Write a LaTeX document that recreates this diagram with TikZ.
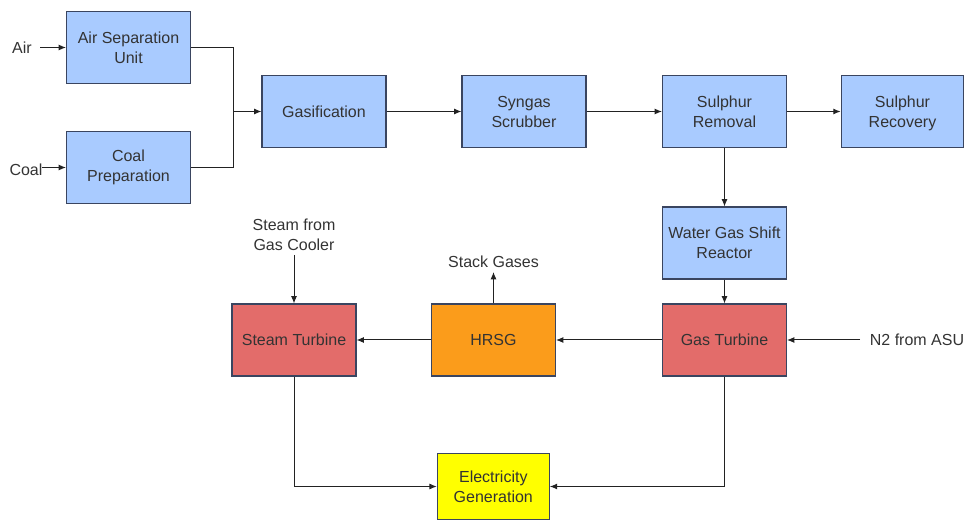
\documentclass[tikz,border=0pt]{standalone}
\usepackage{fontspec}
\setmainfont{Liberation Sans}
\usetikzlibrary{arrows.meta}
\definecolor{boxblue}{HTML}{A9CBFF}
\definecolor{boxred}{HTML}{E36C6A}
\definecolor{boxorange}{HTML}{FB9C1B}
\definecolor{boxyellow}{HTML}{FFFF00}
\definecolor{edgecol}{HTML}{3A4560}
\definecolor{txtcol}{HTML}{333333}
\definecolor{linecol}{HTML}{222222}
\tikzset{
  box/.style={draw=edgecol, line width=0.8pt, minimum width=93pt, minimum height=54pt,
    align=center, text=txtcol, font=\fontsize{12}{15}\selectfont, inner sep=2pt},
  bluebox/.style={box, fill=boxblue},
  redbox/.style={box, fill=boxred},
  orangebox/.style={box, fill=boxorange},
  yellowbox/.style={box, fill=boxyellow, minimum width=84pt, minimum height=49pt},
  lbl/.style={align=center, text=txtcol, font=\fontsize{12}{15}\selectfont, inner sep=1pt},
  conn/.style={draw=linecol, line width=0.75pt},
  arr/.style={conn, -{Latex[length=5.5pt,width=4.5pt]}}
}
\begin{document}
\begin{tikzpicture}[x=0.75pt,y=-0.75pt]
\useasboundingbox (0,0) rectangle (964,520);
% nodes
\node[bluebox] (asu) at (128.5,47.5) {Air Separation\\Unit};
\node[bluebox] (coal) at (128.5,167.5) {Coal\\Preparation};
\node[bluebox] (gas) at (324,111.5) {Gasification};
\node[bluebox] (syn) at (524,111.5) {Syngas\\Scrubber};
\node[bluebox] (srem) at (724.5,111.5) {Sulphur\\Removal};
\node[bluebox, minimum width=92pt] (srec) at (902.5,111.5) {Sulphur\\Recover\smash{y}};
\node[bluebox] (wgs) at (724.5,243) {Water Gas Shift\\Reactor};
\node[redbox] (gt) at (724.5,340) {Gas Turbine};
\node[orangebox] (hrsg) at (493.5,340) {HRSG};
\node[redbox] (st) at (294,340) {Steam Turbine};
\node[yellowbox] (elec) at (493.3,486.5) {Electricity\\Generation};
% labels
\node[lbl] (air) at (22,47.5) {Air};
\node[lbl] (coalin) at (26,170) {Coal};
\node[lbl] (steamin) at (294,235) {Steam from\\Gas Cooler};
\node[lbl] (stack) at (493.5,262) {Stack Gases};
\node[lbl] (n2) at (917,340) {N2 from ASU};
\coordinate (airs) at (40,47.5);
\coordinate (coals) at (42,167.5);
\coordinate (junc) at (233,111.5);
\coordinate (steams) at (294,255);
\coordinate (stacke) at (493.5,272);
\coordinate (n2s) at (860,340);
% connectors
\draw[arr] (airs) -- (asu.west);
\draw[arr] (coals) -- (coal.west);
\draw[conn] (asu.east) -| (junc);
\draw[conn] (coal.east) -| (junc);
\draw[arr] (junc) -- (gas.west);
\draw[arr] (gas) -- (syn);
\draw[arr] (syn) -- (srem);
\draw[arr] (srem) -- (srec);
\draw[arr] (srem) -- (wgs);
\draw[arr] (wgs) -- (gt);
\draw[arr] (n2s) -- (gt.east);
\draw[arr] (gt) -- (hrsg);
\draw[arr] (hrsg) -- (st);
\draw[arr] (hrsg.north) -- (stacke);
\draw[arr] (steams) -- (st.north);
\draw[arr] (st.south) |- (elec.west);
\draw[arr] (gt.south) |- (elec.east);
\end{tikzpicture}
\end{document}
